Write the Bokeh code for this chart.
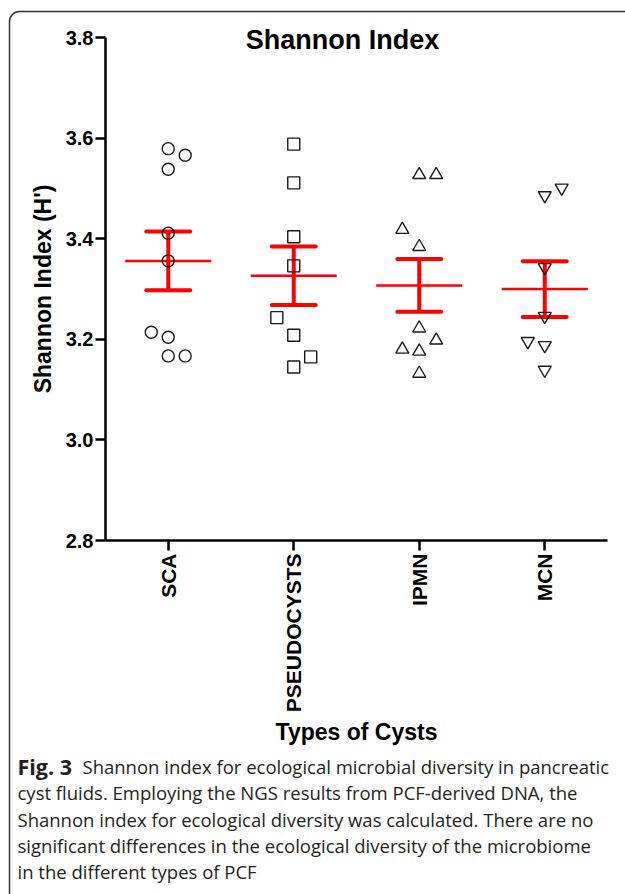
import numpy as np
from math import pi, sqrt
from bokeh.plotting import figure
from bokeh.models import Range1d, FixedTicker, Label, BoxAnnotation, LinearAxis
from bokeh.embed import file_html
from bokeh.resources import INLINE

# ---------------- data ----------------
categories = ["SCA", "PSEUDOCYSTS", "IPMN", "MCN"]
sca_values = [3.579, 3.566, 3.538, 3.411, 3.356, 3.214, 3.204, 3.167, 3.167]
sca_jitter = [0, 1, 0, 0, 0, -1, 0, 0, 1]
pseudo_values = [3.588, 3.511, 3.404, 3.346, 3.243, 3.208, 3.165, 3.145]
pseudo_jitter = [0, 0, 0, 0, -1, 0, 1, 0]
ipmn_values = [3.527, 3.527, 3.418, 3.384, 3.222, 3.198, 3.180, 3.176, 3.132]
ipmn_jitter = [0, 1, -1, 0, 0, 1, -1, 0, 0]
mcn_values = [3.501, 3.486, 3.343, 3.246, 3.196, 3.188, 3.139]
mcn_jitter = [1, 0, 0, 0, -1, 0, 0]
markers = ["circle", "square", "triangle", "inverted_triangle"]
y_ticks = [2.8, 3.0, 3.2, 3.4, 3.6, 3.8]
y_tick_labels = ["2.8", "3.0", "3.2", "3.4", "3.6", "3.8"]

title_text = "Shannon Index"
y_title = "Shannon Index (H')"
x_title = "Types of Cysts"
caption_bold = "Fig. 3"
caption_lines = [
    "Shannon index for ecological microbial diversity in pancreatic",
    "cyst fluids. Employing the NGS results from PCF-derived DNA, the",
    "Shannon index for ecological diversity was calculated. There are no",
    "significant differences in the ecological diversity of the microbiome",
    "in the different types of PCF",
]

# ---------------- layout ----------------
W, H = 625, 894
# plot area of the chart on the page (pixels)
PL, PR, PT, PB = 105, 607, 37, 540
X0, X1, Y0, Y1 = 0.0, 4.0, 2.8, 3.8
kx = (X1 - X0) / (PR - PL)
ky = (Y1 - Y0) / (PB - PT)


def sx(px):
    return X0 + (px - PL) * kx


def sy(py):
    return Y1 - (py - PT) * ky


AX_FONT = "Liberation Sans"

p = figure(width=W, height=H, x_range=Range1d(sx(0), sx(W)), y_range=Range1d(sy(H), sy(0)),
           output_backend="svg", toolbar_location=None,
           x_axis_location=None, y_axis_location=None,
           min_border_left=0, min_border_right=0, min_border_top=0, min_border_bottom=0)
p.outline_line_color = None
p.xgrid.visible = False
p.ygrid.visible = False
p.background_fill_color = "white"
p.border_fill_color = "white"

groups = [(sca_values, sca_jitter), (pseudo_values, pseudo_jitter),
          (ipmn_values, ipmn_jitter), (mcn_values, mcn_jitter)]
step = 0.135
for i, ((vals, jit), mk) in enumerate(zip(groups, markers)):
    c = i + 0.5
    v = np.array(vals)
    m = v.mean()
    sem = v.std(ddof=1) / sqrt(len(v))
    p.segment(x0=[c], y0=[m - sem], x1=[c], y1=[m + sem], line_color="red", line_width=4)
    p.segment(x0=[c - 0.175, c - 0.175], y0=[m - sem, m + sem],
              x1=[c + 0.175, c + 0.175], y1=[m - sem, m + sem],
              line_color="red", line_width=4, line_cap="round")
    p.segment(x0=[c - 0.343], y0=[m], x1=[c + 0.343], y1=[m],
              line_color="red", line_width=2.5)
    xs = [c + j * step for j in jit]
    size = 12 if mk in ("circle", "square") else 13
    p.scatter(xs, vals, marker=mk, size=size, fill_color=None,
              line_color="#1a1a1a", line_width=1.4)

# axes
xa = LinearAxis(fixed_location=Y0, bounds=(X0, X1))
xa.ticker = FixedTicker(ticks=[i + 0.5 for i in range(len(categories))])
xa.major_label_overrides = {i + 0.5: c for i, c in enumerate(categories)}
xa.major_label_orientation = pi / 2
xa.axis_label = x_title
ya = LinearAxis(fixed_location=X0, bounds=(Y0, Y1))
ya.ticker = FixedTicker(ticks=y_ticks)
ya.major_label_overrides = {t: s for t, s in zip(y_ticks, y_tick_labels)}
ya.axis_label = y_title
for ax in (xa, ya):
    ax.axis_line_width = 2.5
    ax.axis_line_color = "black"
    ax.major_tick_line_width = 2.5
    ax.major_tick_line_color = "black"
    ax.major_tick_out = 10
    ax.major_tick_in = 0
    ax.minor_tick_line_color = None
    ax.major_label_text_font = AX_FONT
    ax.major_label_text_font_style = "bold"
    ax.major_label_text_color = "black"
    ax.axis_label_text_font = AX_FONT
    ax.axis_label_text_font_style = "bold"
    ax.axis_label_text_font_size = "23px"
    ax.axis_label_text_color = "black"
xa.major_label_text_font_size = "21px"
ya.major_label_text_font_size = "20px"
xa.major_label_standoff = 3
ya.major_label_standoff = 2
xa.axis_label_standoff = 4
ya.axis_label_standoff = 7
p.add_layout(xa, "below")
p.add_layout(ya, "left")

# title
p.add_layout(Label(x=sx(342), y=sy(39), text=title_text, text_align="center",
                   text_baseline="alphabetic", text_font=AX_FONT, text_font_style="bold",
                   text_font_size="27px", text_color="black"))

# rounded page frame (left and top edges visible, rest beyond the page)
p.add_layout(BoxAnnotation(left=sx(9), right=sx(W + 40), top=sy(11), bottom=sy(H + 40),
                           fill_color=None, fill_alpha=0, line_color="#333333",
                           line_alpha=1.0, line_width=1.5, border_radius=10))

# caption
CAP_FONT = "Open Sans"
base = 766
lh = 26.3
p.add_layout(Label(x=sx(17), y=sy(base), text=caption_bold, text_align="left",
                   text_baseline="alphabetic", text_font=CAP_FONT, text_font_style="bold",
                   text_font_size="21.5px", text_color="#231f20"))
for k, line in enumerate(caption_lines):
    xpx = 82 if k == 0 else 17
    p.add_layout(Label(x=sx(xpx), y=sy(base + k * lh), text=line, text_align="left",
                       text_baseline="alphabetic", text_font=CAP_FONT,
                       text_font_size="18.5px", text_color="#231f20"))

open("out.html", "w").write(file_html(p, INLINE))
